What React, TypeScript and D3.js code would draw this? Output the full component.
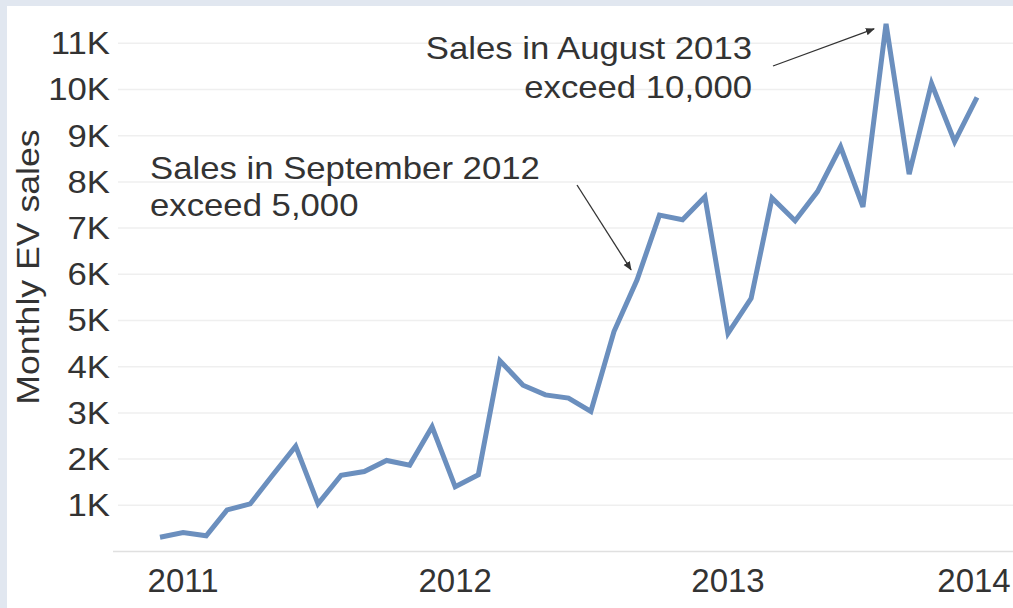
import React from 'react';
import * as d3 from 'd3';

// Monthly EV sales, Dec 2010 .. Dec 2013
const months = [
  '2010-12',
  '2011-01', '2011-02', '2011-03', '2011-04', '2011-05', '2011-06',
  '2011-07', '2011-08', '2011-09', '2011-10', '2011-11', '2011-12',
  '2012-01', '2012-02', '2012-03', '2012-04', '2012-05', '2012-06',
  '2012-07', '2012-08', '2012-09', '2012-10', '2012-11', '2012-12',
  '2013-01', '2013-02', '2013-03', '2013-04', '2013-05', '2013-06',
  '2013-07', '2013-08', '2013-09', '2013-10', '2013-11', '2013-12',
];
const sales = [
  310,
  410, 340, 900, 1030, 1650, 2280,
  1030, 1650, 1730, 1970, 1870, 2700,
  1400, 1660, 4130, 3600, 3390, 3320,
  3030, 4760, 5880, 7280, 7180, 7680,
  4720, 5480, 7650, 7160, 7790, 8760,
  7460, 11420, 8170, 10130, 8870, 9830,
];
const yTicks = [1000, 2000, 3000, 4000, 5000, 6000, 7000, 8000, 9000, 10000, 11000];
const yearTicks = ['2011', '2012', '2013', '2014'];
const notes = [
  { month: '2012-09', lines: ['Sales in September 2012', 'exceed 5,000'] },
  { month: '2013-08', lines: ['Sales in August 2013', 'exceed 10,000'] },
];

const W = 1013;
const H = 608;
const FONT = '"Liberation Sans", Arial, Helvetica, sans-serif';
const INK = '#333';
const SX = 1.12; // glyphs in the source are a bit wider than plain Arial

const parse = d3.timeParse('%Y-%m');
const data = months.map((m, i) => ({ date: parse(m) as Date, value: sales[i] }));

export default function App() {
  const x = d3.scaleTime()
    .domain([parse('2010-12') as Date, parse('2013-12') as Date])
    .range([160, 977]);
  const y = d3.scaleLinear().domain([0, 11000]).range([551.5, 43.3]);

  const line = d3.line<{ date: Date; value: number }>()
    .x((d) => x(d.date))
    .y((d) => y(d.value));

  const fmt = (v: number) => `${v / 1000}K`;

  const sep = data[months.indexOf(notes[0].month)];
  const aug = data[months.indexOf(notes[1].month)];

  return (
    <div style={{ position: 'fixed', left: 0, top: 0 }}>
      <svg width={W} height={H} style={{ display: 'block' }} fontFamily={FONT}>
        <defs>
          <marker id="arrow" viewBox="0 0 10 10" refX="9" refY="5"
            markerWidth="7" markerHeight="7" orient="auto-start-reverse">
            <path d="M0,1 L10,5 L0,9 z" fill={INK} />
          </marker>
        </defs>

        {/* slide frame */}
        <rect x={0} y={0} width={W} height={H} fill="#e1e7f0" />
        <rect x={7} y={6} width={W - 7} height={H - 6} fill="#fff" />

        {/* grid */}
        {yTicks.map((t) => (
          <line key={t} x1={118} x2={W} y1={y(t)} y2={y(t)}
            stroke="#efefef" strokeWidth={1.5} />
        ))}
        <line x1={113} x2={W} y1={y(0)} y2={y(0)} stroke="#e0e0e0" strokeWidth={1.5} />

        {/* y tick labels */}
        {yTicks.map((t) => (
          <text key={t} transform={`translate(110,${y(t)}) scale(${SX},1)`}
            textAnchor="end" dominantBaseline="central" fontSize={31} fill={INK}>
            {fmt(t)}
          </text>
        ))}

        {/* y title */}
        <text transform={`translate(28,267) rotate(-90) scale(1.15,1)`}
          textAnchor="middle" dominantBaseline="central" fontSize={31} fill={INK}>
          Monthly EV sales
        </text>

        {/* year labels (last one pulled in so it stays on the page) */}
        {yearTicks.map((yr) => {
          const px = Math.min(x(parse(`${yr}-01`) as Date), 974);
          return (
            <text key={yr} x={px} y={592} textAnchor="middle" fontSize={33} fill={INK}>
              {yr}
            </text>
          );
        })}

        {/* series */}
        <path d={line(data) ?? ''} fill="none" stroke="#6b8fbe" strokeWidth={5} />

        {/* annotations */}
        {notes[0].lines.map((t, i) => (
          <text key={t} transform={`translate(150,${179 + i * 37}) scale(${SX},1)`}
            fontSize={31} fill={INK}>
            {t}
          </text>
        ))}
        <line x1={577} y1={185} x2={x(sep.date) - 6} y2={y(sep.value) - 10}
          stroke={INK} strokeWidth={1.3} markerEnd="url(#arrow)" />

        {notes[1].lines.map((t, i) => (
          <text key={t} transform={`translate(752,${59 + i * 39}) scale(${SX},1)`}
            textAnchor="end" fontSize={31} fill={INK}>
            {t}
          </text>
        ))}
        <line x1={773} y1={66} x2={x(aug.date) - 12} y2={y(aug.value) + 5}
          stroke={INK} strokeWidth={1.3} markerEnd="url(#arrow)" />
      </svg>
    </div>
  );
}
